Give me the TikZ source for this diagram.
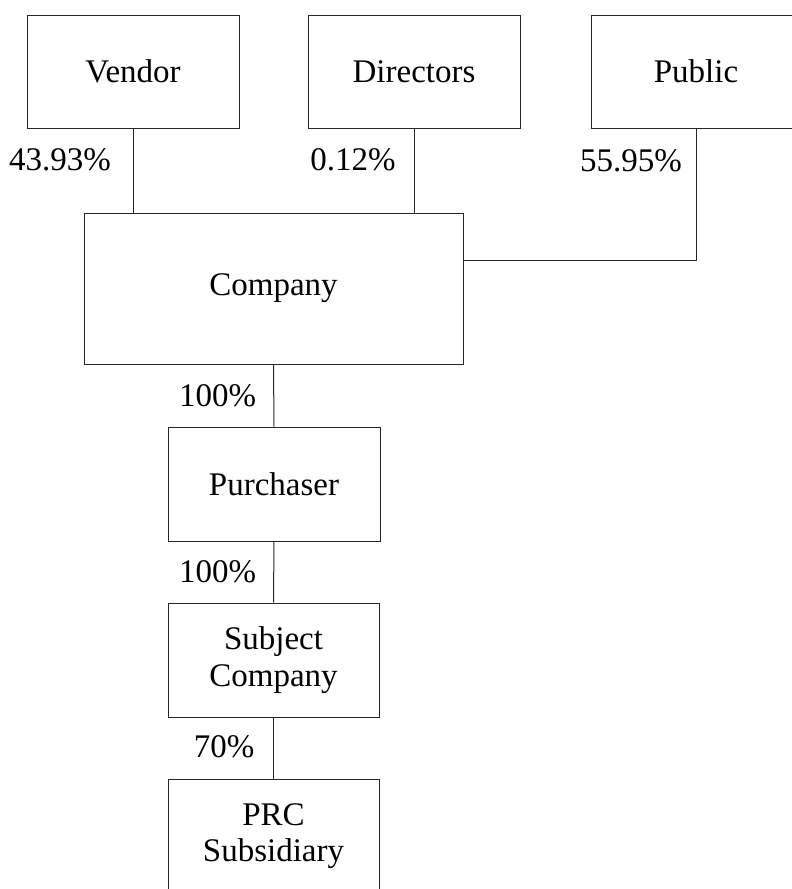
\documentclass[tikz,border=0pt]{standalone}
\usepackage{fontspec}
\setmainfont{Liberation Serif}
\begin{document}
\begin{tikzpicture}[x=1pt,y=-1pt,
  box/.style={draw=black!85,line width=1pt,rectangle,inner sep=0pt,align=center,
    font=\fontsize{33}{36.7}\selectfont},
  lbl/.style={inner sep=0pt,font=\fontsize{33}{36.7}\selectfont},
  conn/.style={draw=black!85,line width=1pt}]
\useasboundingbox (0,0) rectangle (792,889);
\clip (0,0) rectangle (792,889);
\node[box,minimum width=212pt,minimum height=113pt] (vendor) at (133,71.5) {Vendor};
\node[box,minimum width=212pt,minimum height=113pt] (directors) at (414,71.5) {Directors};
\node[box,minimum width=210pt,minimum height=113pt] (public) at (696,71.5) {Public};
\node[box,minimum width=379pt,minimum height=151pt] (company) at (273.5,288.5) {Company};
\node[box,minimum width=212pt,minimum height=114pt] (purchaser) at (274,484) {Purchaser};
\node[box,minimum width=211pt,minimum height=114pt] (subject) at (273.5,660) {Subject\\Company};
\node[box,minimum width=211pt,minimum height=114pt] (prc) at (273.5,836) {PRC\\Subsidiary};
\coordinate (pj) at (695,260);
\draw[conn] (vendor.south) -- (vendor.south |- company.north);
\draw[conn] (directors.south) -- (directors.south |- company.north);
\draw[conn] (public.south) |- (company.east |- pj);
\draw[conn] (company.south) -- (purchaser.north);
\draw[conn] (purchaser.south) -- (subject.north);
\draw[conn] (subject.south) -- (prc.north);
\node[lbl] (l1) at (60,160) {43.93\%};
\node[lbl] (l2) at (353,160) {0.12\%};
\node[lbl] (l3) at (631,161) {55.95\%};
\node[lbl] (l4) at (217.5,396) {100\%};
\node[lbl] (l5) at (217.5,572) {100\%};
\node[lbl] (l6) at (224,747) {70\%};
\end{tikzpicture}
\end{document}
